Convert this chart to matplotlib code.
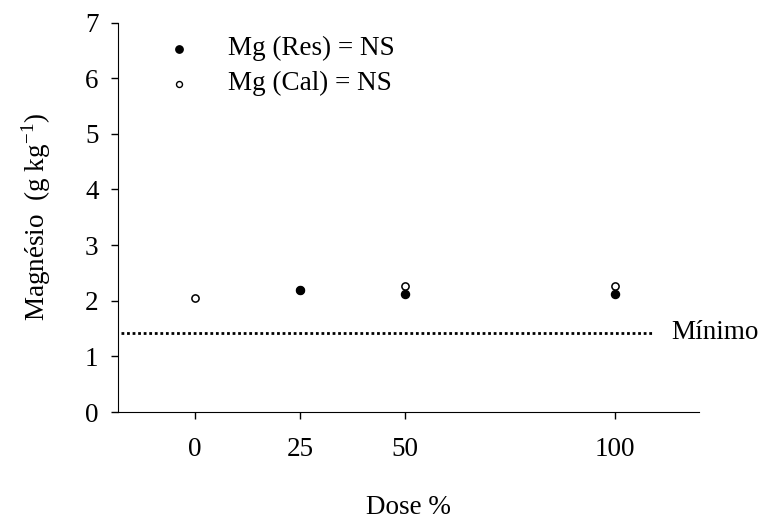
import numpy as np
from matplotlib import pyplot as plt

# Data
doses = [0, 25, 50, 100]
mg_res = [np.nan, 2.2, 2.12, 2.12]
mg_cal = [2.05, 2.2, 2.27, 2.27]
minimo = 1.42
yticks = [0, 1, 2, 3, 4, 5, 6, 7]

plt.rcParams["font.family"] = ["Liberation Serif", "DejaVu Serif"]
plt.rcParams["mathtext.fontset"] = "custom"
plt.rcParams["mathtext.rm"] = "Liberation Serif"
fs = 19.5

fig = plt.figure(figsize=(7.64, 5.22), dpi=100)
ax = fig.add_axes([118 / 764, 1 - 412 / 522, (699 - 118) / 764, (412 - 22.5) / 522])

ax.plot(doses, mg_cal, "o", ms=5.2, mfc="white", mec="black", mew=1.1, zorder=3)
ax.plot(doses, mg_res, "o", ms=5.8, mfc="black", mec="black", zorder=4)

ax.plot([-17.6, 109], [minimo, minimo], ls=(0, (1, 1)), color="black", lw=2)
ax.text(113.5, minimo, "Mínimo", fontsize=fs, va="center", ha="left", clip_on=False)

ax.set_xlim(-18.3, 120)
ax.set_ylim(0, 7)
ax.set_xticks(doses)
ax.set_yticks(yticks)
ax.tick_params(axis="both", direction="out", labelsize=fs, length=5, width=1)
ax.tick_params(axis="x", pad=13)
ax.tick_params(axis="y", pad=9)
for s in ["top", "right"]:
    ax.spines[s].set_visible(False)

ax.set_xlabel("Dose %", fontsize=fs, labelpad=24)
ax.set_ylabel("Magnésio  (g kg$^{-1}$)", fontsize=fs, labelpad=23)

# legend drawn by hand in data coordinates
ax.plot([-3.8], [6.53], "o", ms=5.3, mfc="black", mec="black", clip_on=False)
ax.plot([-3.8], [5.9], "o", ms=4.3, mfc="white", mec="black", mew=1, clip_on=False)
ax.text(7.8, 6.53, "Mg (Res) = NS", fontsize=fs, va="center")
ax.text(7.8, 5.9, "Mg (Cal) = NS", fontsize=fs, va="center")

fig.savefig("out.png", dpi=100)
